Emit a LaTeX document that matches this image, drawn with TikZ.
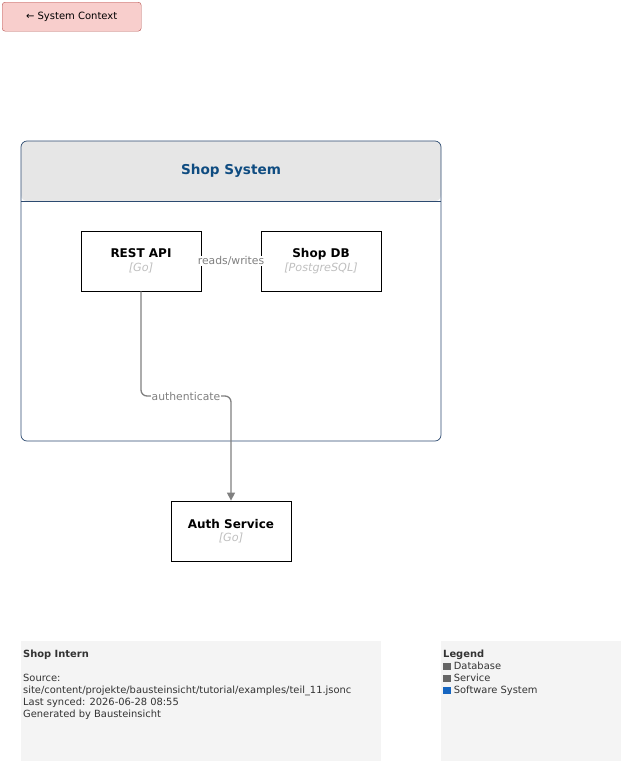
\documentclass[tikz,border=0pt]{standalone}
\usepackage{fontspec}
\setmainfont{DejaVu Sans}
\usetikzlibrary{arrows.meta}
\definecolor{pinkfill}{HTML}{F8CECC}
\definecolor{pinkdraw}{HTML}{B85450}
\definecolor{sysblue}{HTML}{0F4C81}
\definecolor{sysborder}{HTML}{2C4A70}
\definecolor{hdrgray}{HTML}{E6E6E6}
\definecolor{edgegray}{HTML}{808080}
\definecolor{techgray}{HTML}{C0C0C0}
\definecolor{notefill}{HTML}{F4F4F4}
\definecolor{notetext}{HTML}{333333}
\definecolor{legdark}{HTML}{666666}
\definecolor{legblue}{HTML}{1565C0}
\tikzset{
  elem/.style={draw=black, line width=0.8pt, fill=white, minimum width=120pt, minimum height=60pt, inner sep=0pt},
  edgelbl/.style={fill=white, inner sep=0.3pt, text=edgegray, font=\fontsize{10.8}{12}\selectfont},
  conn/.style={draw=edgegray, line width=1.3pt},
  notetxt/.style={text=notetext, font=\fontsize{9.9}{12}\selectfont, anchor=north west, align=left, inner sep=0pt},
}
\newcommand{\elemtext}[2]{{\fontsize{12}{14}\selectfont\bfseries #1}\\[1.5pt]{\fontsize{11.2}{14}\selectfont\itshape\color{techgray}#2}}
\begin{document}
\begin{tikzpicture}[x=1pt,y=-1pt]
\useasboundingbox (0,0) rectangle (624,764);
% back button
\node[draw=pinkdraw, fill=pinkfill, rounded corners=3pt, minimum width=139pt, minimum height=29pt, inner sep=0pt, anchor=north west, font=\fontsize{10}{12}\selectfont] (back) at (2,2) {← System Context};
% container
\fill[hdrgray, rounded corners=6pt] (21,201) -- (21,141) -- (441,141) -- (441,201) -- cycle;
\draw[sysborder, line width=0.7pt, rounded corners=6pt] (21,141) rectangle (441,441);
\draw[sysborder, line width=0.7pt] (21,201) -- (441,201);
\node[text=sysblue, font=\fontsize{13.6}{16}\selectfont\bfseries] (sys) at (231,171) {Shop System};
% elements
\node[elem, align=center] (api) at (141,261) {\elemtext{REST API}{[Go]}};
\node[elem, align=center] (db) at (321,261) {\elemtext{Shop DB}{[PostgreSQL]}};
\node[elem, align=center] (auth) at (231,531) {\elemtext{Auth Service}{[Go]}};
% connectors
\draw[conn] (api.east) -- node[edgelbl] {reads/writes} (db.west);
\coordinate (bend) at (186,396);
\draw[conn, -{Triangle[length=8pt,width=8pt]}, rounded corners=6pt] (api.south) |- (bend) -| (auth.north);
\node[edgelbl] (authlbl) at (bend) {authenticate};
% footer
\node[fill=notefill, minimum width=360pt, minimum height=120pt, anchor=north west, inner sep=0pt] (note) at (21,641) {};
\node[notetxt] (notet) at (23,650) {\textbf{Shop Intern}\\ \\Source:\\site/content/projekte/bausteinsicht/tutorial/examples/teil\_11.jsonc\\Last synced: 2026-06-28 08:55\\Generated by Bausteinsicht};
\node[fill=notefill, minimum width=180pt, minimum height=120pt, anchor=north west, inner sep=0pt] (legend) at (441,641) {};
\node[notetxt] (legt) at (443,650) {\textbf{Legend}\\{\color{legdark}\rule[-0.5pt]{7.5pt}{7.5pt}} Database\\{\color{legdark}\rule[-0.5pt]{7.5pt}{7.5pt}} Service\\{\color{legblue}\rule[-0.5pt]{7.5pt}{7.5pt}} Software System};
\end{tikzpicture}
\end{document}
